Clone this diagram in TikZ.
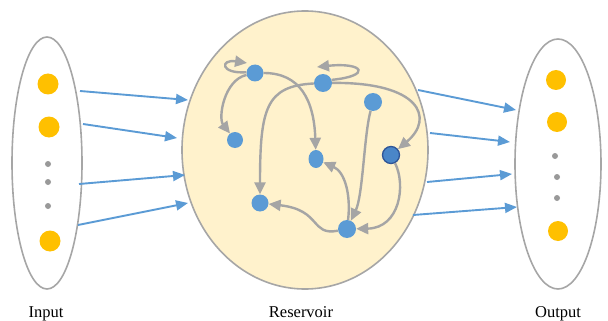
\documentclass[tikz,border=0pt]{standalone}
\usepackage{fontspec}
\setmainfont{Liberation Serif}
\usetikzlibrary{arrows.meta,shapes.geometric}
\definecolor{nodeblue}{HTML}{5B9BD5}
\definecolor{arrowblue}{HTML}{5B9BD5}
\definecolor{dotorange}{HTML}{FFC000}
\definecolor{edgegray}{HTML}{A5A5A5}
\definecolor{rimgray}{HTML}{A6A6A6}
\definecolor{resfill}{HTML}{FFF2CC}
\definecolor{darkrim}{HTML}{2F5597}
\definecolor{darkfill}{HTML}{4A86C8}

\begin{document}
\begin{tikzpicture}[x=1pt,y=-1pt,
  layer/.style={draw=rimgray, line width=1.6pt, ellipse, inner sep=0pt},
  unit/.style={circle, fill=nodeblue, inner sep=0pt, minimum size=17pt},
  io/.style={circle, fill=dotorange, inner sep=0pt, minimum size=#1},
  io/.default=21pt,
  gap/.style={circle, fill=black!40, inner sep=0pt, minimum size=6pt},
  link/.style={draw=edgegray, line width=2.4pt, -{Triangle[length=12pt,width=11pt]}},
  feed/.style={draw=arrowblue, line width=1.9pt, -{Triangle[length=12pt,width=10pt]}},
  caption/.style={font=\fontsize{16.5}{18}\selectfont, anchor=base}
]
\useasboundingbox (0,0) rectangle (608,321);

% the three layers
\node[layer, minimum width=70pt, minimum height=252pt] (inp) at (47,163) {};
\node[layer, fill=resfill, minimum width=246pt, minimum height=278pt] (res) at (305,150) {};
\node[layer, minimum width=86pt, minimum height=250pt] (out) at (558,164) {};

% input units
\node[io] (i1) at (48,84) {};
\node[io] (i2) at (49,127) {};
\node[gap] (ig1) at (48,164) {};
\node[gap] (ig2) at (48,182) {};
\node[gap] (ig3) at (48,206) {};
\node[io] (i3) at (50,241) {};

% output units
\node[io=20pt] (o1) at (556,80) {};
\node[io=20pt] (o2) at (557,122) {};
\node[gap] (og1) at (555,156) {};
\node[gap] (og2) at (557,177) {};
\node[gap] (og3) at (557,198) {};
\node[io=20pt] (o3) at (558,231) {};

% reservoir units
\node[unit] (A) at (255,73) {};
\node[unit, minimum size=18pt] (B) at (323,83) {};
\node[unit, minimum size=18pt] (C) at (373,102) {};
\node[unit, minimum size=16pt] (D) at (235,140) {};
\node[ellipse, fill=nodeblue, inner sep=0pt, minimum width=15pt, minimum height=18pt] (E) at (316,159) {};
\node[circle, fill=darkfill, draw=darkrim, line width=1.3pt, inner sep=0pt, minimum size=17pt] (F) at (391,155) {};
\node[unit] (G) at (260,203) {};
\node[unit, minimum size=18pt] (H) at (347,229) {};

% self-loop ends
\coordinate (aloop) at (247,63);
\coordinate (bloop) at (317,67);

% recurrent connections
\draw[link] (A.175) .. controls (220,74) and (220,59) .. (aloop);
\draw[link] (B.20) .. controls (372,76) and (364,62) .. (bloop);
\draw[link] (A) .. controls (224,80) and (218,118) .. (D);
\draw[link] (A) .. controls (300,73) and (314,100) .. (E);
\draw[link] (B) .. controls (266,86) and (260,108) .. (G);
\draw[link] (B) .. controls (420,82) and (435,118) .. (F);
\draw[link] (C) .. controls (364,135) and (363,195) .. (H);
\draw[link] (F) .. controls (406,185) and (400,228) .. (H);
\draw[link] (H) .. controls (351,195) and (345,172) .. (E);
\draw[link] (H) .. controls (310,236) and (322,210) .. (G);

% input feeds
\coordinate (fi1) at (80,91);   \coordinate (fr1) at (188,100);
\coordinate (fi2) at (83,124);  \coordinate (fr2) at (177,138);
\coordinate (fi3) at (79,184);  \coordinate (fr3) at (185,175);
\coordinate (fi4) at (78,225);  \coordinate (fr4) at (188,203);
\draw[feed] (fi1) -- (fr1);
\draw[feed] (fi2) -- (fr2);
\draw[feed] (fi3) -- (fr3);
\draw[feed] (fi4) -- (fr4);

% readout feeds
\coordinate (fs1) at (418,90);  \coordinate (fo1) at (516,110);
\coordinate (fs2) at (430,133); \coordinate (fo2) at (510,142);
\coordinate (fs3) at (427,182); \coordinate (fo3) at (512,174);
\coordinate (fs4) at (413,215); \coordinate (fo4) at (517,207);
\draw[feed] (fs1) -- (fo1);
\draw[feed] (fs2) -- (fo2);
\draw[feed] (fs3) -- (fo3);
\draw[feed] (fs4) -- (fo4);

% captions
\node[caption] (tin) at (46,317) {Input};
\node[caption] (tres) at (301,317) {Reservoir};
\node[caption] (tout) at (558,317) {Output};
\end{tikzpicture}
\end{document}
